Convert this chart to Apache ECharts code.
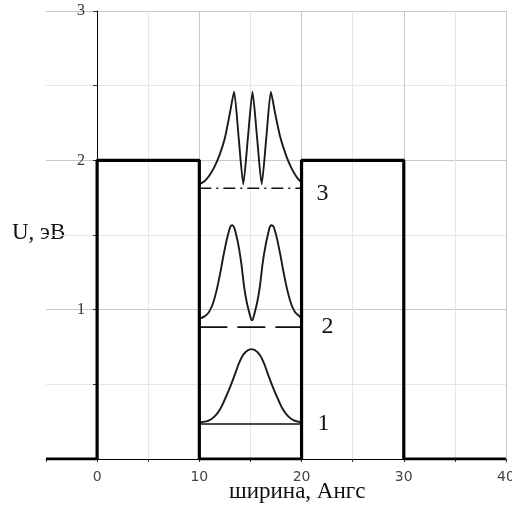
<!DOCTYPE html>
<html>
<head>
<meta charset="utf-8">
<script src="https://cdn.jsdelivr.net/npm/echarts@6.0.0/dist/echarts.min.js"></script>
<style>
  html, body { margin: 0; padding: 0; background: #fff; }
  #chart { width: 512px; height: 510px; }
</style>
</head>
<body>
<div id="chart"></div>
<script>
// потенциал (ширина, Ангс -> U, эВ)
const potentialX = [-5, 0, 0, 10, 10, 20, 20, 30, 30, 40];
const potentialU = [0, 0, 2, 2, 0, 0, 2, 2, 0, 0];

// уровни энергии в яме 10..20
const levelNames = ['1', '2', '3'];
const levelU = [0.234, 0.883, 1.813];
const wellEdges = [10, 20];

// |psi|^2, сдвинутые на уровень
const psi1X = [10, 10.5, 11, 11.5, 12, 12.5, 13, 13.5, 14, 14.5, 15.1, 15.7, 16.2, 16.7, 17.2, 17.7, 18.2, 18.7, 19.2, 19.7, 20];
const psi1U = [0.245, 0.25, 0.26, 0.285, 0.33, 0.40, 0.48, 0.57, 0.66, 0.715, 0.736, 0.715, 0.66, 0.57, 0.48, 0.40, 0.33, 0.285, 0.26, 0.25, 0.245];

const psi2X = [10, 10.5, 11, 11.5, 12, 12.5, 13, 13.2, 13.5, 14, 14.5, 15, 15.15, 15.3, 15.8, 16.3, 16.8, 17.05, 17.3, 17.8, 18.3, 18.8, 19.3, 19.8, 20];
const psi2U = [0.94, 0.955, 0.99, 1.08, 1.23, 1.41, 1.55, 1.565, 1.53, 1.36, 1.10, 0.95, 0.93, 0.95, 1.10, 1.36, 1.53, 1.565, 1.55, 1.41, 1.23, 1.08, 0.99, 0.955, 0.94];

const psi3X = [10, 10.5, 11, 11.5, 12, 12.5, 13, 13.4, 13.85, 14.3, 14.75, 15.2, 15.65, 16.1, 16.55, 17, 17.4, 17.9, 18.5, 19, 19.5, 20];
const psi3U = [1.84, 1.86, 1.90, 1.96, 2.04, 2.15, 2.32, 2.46, 2.15, 1.84, 2.15, 2.46, 2.15, 1.84, 2.15, 2.46, 2.32, 2.16, 2.03, 1.95, 1.89, 1.85];

const zip = (xs, ys) => xs.map((x, i) => [x, ys[i]]);

const chart = echarts.init(document.getElementById('chart'));

const levelDash = ['solid', [28, 10], [12, 5, 2, 5]];
const labelDist = [16, 20, 15];
const labelOffset = [[0, 0], [0, 0], [0, 5]];

const levelSeries = levelU.map((u, i) => ({
  type: 'line',
  symbol: 'none',
  silent: true,
  lineStyle: { color: '#111', width: 1.6, type: levelDash[i] },
  endLabel: {
    show: true,
    distance: labelDist[i],
    offset: labelOffset[i],
    formatter: levelNames[i],
    color: '#111',
    fontFamily: 'Liberation Serif',
    fontSize: 24
  },
  data: [[wellEdges[0], u], [wellEdges[1], u]],
  z: 3
}));

const curve = (xs, ys, smooth) => ({
  type: 'line',
  symbol: 'none',
  silent: true,
  smooth: smooth,
  lineStyle: { color: '#1a1a1a', width: 1.9 },
  data: zip(xs, ys),
  z: 4
});

const option = {
  animation: false,
  backgroundColor: '#fff',
  grid: { left: 46, right: 6, top: 11, bottom: 51, outerBoundsMode: 'none' },
  xAxis: {
    type: 'value',
    min: -5,
    max: 40,
    interval: 5,
    axisLine: { lineStyle: { color: '#000', width: 1 } },
    axisTick: { show: true, length: 3, lineStyle: { color: '#333' } },
    axisLabel: {
      margin: 11,
      color: '#444',
      fontFamily: 'DejaVu Sans',
      fontSize: 14,
      formatter: v => (v % 10 === 0 ? String(v) : '')
    },
    splitLine: {
      show: true,
      showMinLine: false,
      lineStyle: { color: ['#c8c8c8', '#e6e6e6'], width: 1 }
    }
  },
  yAxis: {
    type: 'value',
    min: 0,
    max: 3,
    interval: 0.5,
    offset: -51,
    axisLine: { show: true, onZero: false, lineStyle: { color: '#000', width: 1 } },
    axisTick: { show: true, length: 4, lineStyle: { color: '#333' } },
    axisLabel: {
      margin: 12,
      color: '#333',
      fontFamily: 'Liberation Serif',
      fontSize: 16,
      formatter: v => (v > 0 && v % 1 === 0 ? String(v) : '')
    },
    splitLine: {
      show: true,
      lineStyle: { color: ['#c8c8c8', '#e6e6e6'], width: 1 }
    }
  },
  graphic: [
    {
      type: 'text', left: 12, top: 221,
      style: { text: 'U, эВ', fill: '#111', font: '23px "Liberation Serif"' }
    },
    {
      type: 'text', left: 229, top: 480,
      style: { text: 'ширина, Ангс', fill: '#111', font: '23px "Liberation Serif"' }
    }
  ],
  series: [
    {
      type: 'line',
      symbol: 'none',
      silent: true,
      lineStyle: { color: '#000', width: 3.2 },
      data: zip(potentialX, potentialU),
      z: 5
    },
    ...levelSeries,
    curve(psi1X, psi1U, 0.5),
    curve(psi2X, psi2U, 0.5),
    curve(psi3X, psi3U, 0.2)
  ]
};

chart.setOption(option);
</script>
</body>
</html>
